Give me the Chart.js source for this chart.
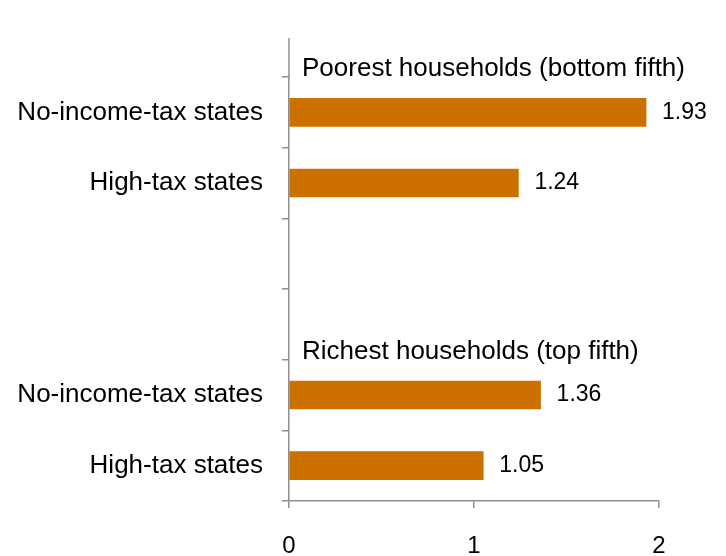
<!DOCTYPE html>
<html lang="en">
<head>
  <meta charset="UTF-8">
  <title>Tax share by household group</title>
  <script src="https://cdn.jsdelivr.net/npm/chart.js"></script>
  <style>
    html, body {
      margin: 0;
      padding: 0;
      background: #fff;
    }
    .chart-container {
      position: relative;
      width: 726px;
      height: 556px;
    }
  </style>
</head>
<body>
  <div class="chart-container">
    <canvas id="barChart"></canvas>
  </div>

  <script>
    // data
    const categories = ['No-income-tax states', 'High-tax states', '', '', 'No-income-tax states', 'High-tax states'];
    const values = [1.93, 1.24, null, null, 1.36, 1.05];
    const groupTitles = ['Poorest households (bottom fifth)', 'Richest households (top fifth)'];
    const groupStarts = [0, 4];   // index of first category under each title
    const xTicks = [0, 1, 2];

    const FONT = '"Liberation Sans", Arial, sans-serif';
    const AXIS_GREY = '#8f8f8f';
    const BAR_COLOR = '#cc7000';

    const extrasPlugin = {
      id: 'extras',
      afterDraw(chart) {
        const ctx = chart.ctx;
        const y = chart.scales.y;
        const area = chart.chartArea;
        const slot = y.getPixelForValue(1) - y.getPixelForValue(0);

        ctx.save();
        // axis line continues above the first category
        ctx.strokeStyle = AXIS_GREY;
        ctx.lineWidth = 1.5;
        ctx.beginPath();
        ctx.moveTo(area.left, area.top);
        ctx.lineTo(area.left, 38);
        ctx.stroke();

        // group titles
        ctx.fillStyle = '#000';
        ctx.font = '26px ' + FONT;
        ctx.textAlign = 'left';
        ctx.textBaseline = 'alphabetic';
        groupTitles.forEach((title, i) => {
          const top = y.getPixelForValue(groupStarts[i]) - slot / 2;
          ctx.fillText(title, area.left + 13, top - 1);
        });

        // value labels
        ctx.font = '23px ' + FONT;
        ctx.textBaseline = 'middle';
        chart.getDatasetMeta(0).data.forEach((bar, i) => {
          if (values[i] == null) return;
          ctx.fillText(values[i].toFixed(2), bar.x + 16, bar.y);
        });
        ctx.restore();
      }
    };

    new Chart(document.getElementById('barChart'), {
      type: 'bar',
      data: {
        labels: categories,
        datasets: [{
          data: values,
          backgroundColor: BAR_COLOR,
          barThickness: 28
        }]
      },
      options: {
        indexAxis: 'y',
        responsive: true,
        maintainAspectRatio: false,
        animation: false,
        layout: {
          padding: { top: 77, right: 67, left: 0, bottom: 0 }
        },
        plugins: {
          legend: { display: false },
          tooltip: { enabled: false }
        },
        scales: {
          x: {
            min: 0,
            max: 2,
            afterBuildTicks(scale) {
              scale.ticks = xTicks.map(v => ({ value: v }));
            },
            afterFit(scale) {
              scale.height = 55;
            },
            grid: {
              drawOnChartArea: false,
              tickLength: 7,
              color: AXIS_GREY,
              lineWidth: 1.5
            },
            border: { color: AXIS_GREY, width: 1.5 },
            ticks: {
              color: '#000',
              padding: 24,
              font: { size: 24, family: FONT }
            }
          },
          y: {
            afterFit(scale) {
              scale.width = 289;
            },
            grid: {
              offset: true,
              drawOnChartArea: false,
              tickLength: 7,
              color: AXIS_GREY,
              lineWidth: 1.5
            },
            border: { color: AXIS_GREY, width: 1.5 },
            ticks: {
              color: '#000',
              padding: 19,
              autoSkip: false,
              font: { size: 26, family: FONT }
            }
          }
        }
      },
      plugins: [extrasPlugin]
    });
  </script>
</body>
</html>
